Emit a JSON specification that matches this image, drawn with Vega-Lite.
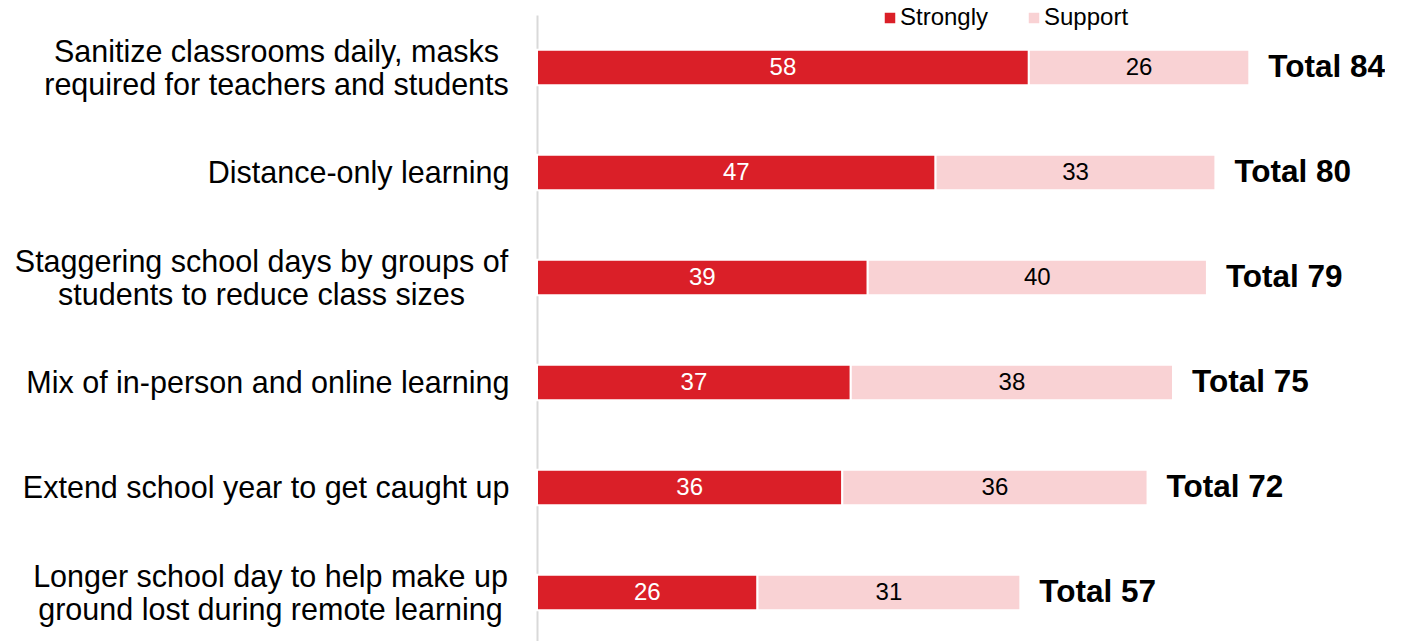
{
  "$schema": "https://vega.github.io/schema/vega-lite/v6.json",
  "autosize": "none",
  "width": 848,
  "height": 630,
  "padding": {"left": 537, "top": 15, "right": 0, "bottom": 0},
  "background": "white",
  "config": {
    "view": {"stroke": null},
    "font": "Liberation Sans",
    "text": {"font": "Liberation Sans"}
  },
  "datasets": {
    "bars": [
      {"label": "Sanitize classrooms daily, masks|required for teachers and students", "cat": "Strongly", "value": 58},
      {"label": "Sanitize classrooms daily, masks|required for teachers and students", "cat": "Support", "value": 26},
      {"label": "Distance-only learning", "cat": "Strongly", "value": 47},
      {"label": "Distance-only learning", "cat": "Support", "value": 33},
      {"label": "Staggering school days by groups of|students to reduce class sizes", "cat": "Strongly", "value": 39},
      {"label": "Staggering school days by groups of|students to reduce class sizes", "cat": "Support", "value": 40},
      {"label": "Mix of in-person and online learning", "cat": "Strongly", "value": 37},
      {"label": "Mix of in-person and online learning", "cat": "Support", "value": 38},
      {"label": "Extend school year to get caught up", "cat": "Strongly", "value": 36},
      {"label": "Extend school year to get caught up", "cat": "Support", "value": 36},
      {"label": "Longer school day to help make up|ground lost during remote learning", "cat": "Strongly", "value": 26},
      {"label": "Longer school day to help make up|ground lost during remote learning", "cat": "Support", "value": 31}
    ],
    "totals": [
      {"label": "Sanitize classrooms daily, masks|required for teachers and students", "total": 84, "text": "Total 84"},
      {"label": "Distance-only learning", "total": 80, "text": "Total 80"},
      {"label": "Staggering school days by groups of|students to reduce class sizes", "total": 79, "text": "Total 79"},
      {"label": "Mix of in-person and online learning", "total": 75, "text": "Total 75"},
      {"label": "Extend school year to get caught up", "total": 72, "text": "Total 72"},
      {"label": "Longer school day to help make up|ground lost during remote learning", "total": 57, "text": "Total 57"}
    ]
  },
  "encoding": {
    "y": {
      "field": "label",
      "type": "nominal",
      "sort": [
        "Sanitize classrooms daily, masks|required for teachers and students",
        "Distance-only learning",
        "Staggering school days by groups of|students to reduce class sizes",
        "Mix of in-person and online learning",
        "Extend school year to get caught up",
        "Longer school day to help make up|ground lost during remote learning"
      ],
      "scale": {"paddingInner": 0.66, "paddingOuter": 0.33},
      "title": null,
      "axis": {
        "labelExpr": "split(datum.label, '|')",
        "labelFontSize": 30.5,
        "labelLineHeight": 33,
        "labelColor": "#000000",
        "labelAlign": {"condition": {"test": "indexof(datum.value, '|') >= 0", "value": "center"}, "value": "right"},
        "labelOffset": {"condition": {"test": "indexof(datum.value, '|') >= 0", "value": -14.5}, "value": 1},
        "labelPadding": {
          "condition": [
            {"test": "indexof(datum.value, 'Sanitize') >= 0", "value": 261},
            {"test": "indexof(datum.value, 'Staggering') >= 0", "value": 276},
            {"test": "indexof(datum.value, 'Longer') >= 0", "value": 267}
          ],
          "value": 28
        },
        "labelLimit": 0,
        "labelFont": "Liberation Sans",
        "ticks": false,
        "domainColor": "#d9d9d9",
        "domainWidth": 2
      }
    }
  },
  "layer": [
    {
      "data": {"name": "bars"},
      "transform": [
        {"calculate": "datum.cat === 'Strongly' ? 0 : 1", "as": "ord"},
        {"stack": "value", "groupby": ["label"], "sort": [{"field": "ord", "order": "ascending"}], "as": ["v0", "v1"]},
        {"calculate": "(datum.v0 + datum.v1) / 2", "as": "mid"}
      ],
      "layer": [
        {
          "mark": {"type": "bar", "stroke": "white", "strokeWidth": 2},
          "encoding": {
            "x": {"field": "v0", "type": "quantitative", "scale": {"domain": [0, 100]}, "axis": null},
            "x2": {"field": "v1"},
            "color": {
              "field": "cat",
              "type": "nominal",
              "scale": {"domain": ["Strongly", "Support"], "range": ["#DA1F28", "#F9D2D4"]},
              "legend": {
                "title": null,
                "orient": "none",
                "direction": "horizontal",
                "legendX": 341,
                "legendY": -9,
                "symbolType": "square",
                "symbolSize": 110,
                "symbolStrokeWidth": 0,
                "labelFontSize": 24,
                "labelFont": "Liberation Sans",
                "labelColor": "#000000",
                "labelOffset": -2,
                "columnPadding": 33,
                "padding": 0
              }
            }
          }
        },
        {
          "mark": {"type": "text", "fontSize": 24, "font": "Liberation Sans", "baseline": "middle", "align": "center"},
          "encoding": {
            "x": {"field": "mid", "type": "quantitative"},
            "text": {"field": "value", "type": "quantitative"},
            "color": {
              "condition": {"test": "datum.cat === 'Strongly'", "value": "#ffffff"},
              "value": "#000000"
            }
          }
        }
      ]
    },
    {
      "data": {"name": "totals"},
      "mark": {"type": "text", "fontSize": 31.5, "fontWeight": "bold", "font": "Liberation Sans", "align": "left", "baseline": "middle", "dx": 19, "color": "#000000"},
      "encoding": {
        "x": {"field": "total", "type": "quantitative"},
        "text": {"field": "text"}
      }
    }
  ]
}
